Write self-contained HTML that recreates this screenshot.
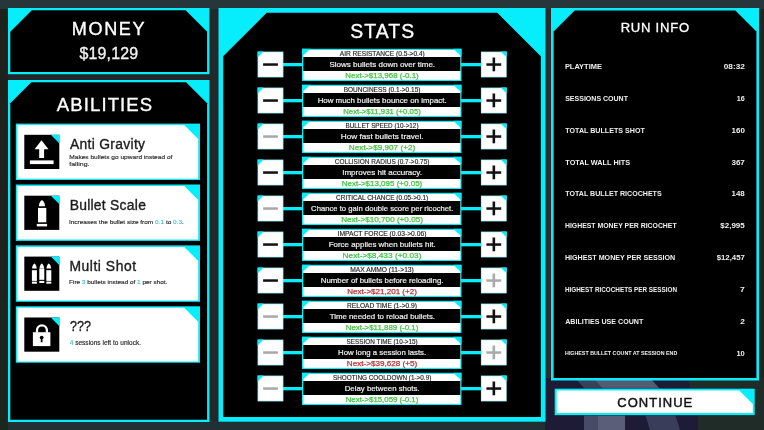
<!DOCTYPE html><html><head><meta charset="utf-8"><style>html,body{margin:0;padding:0;width:764px;height:430px;overflow:hidden;background:#23292a}svg{display:block;filter:blur(0.35px)}text{font-family:"Liberation Sans",sans-serif;white-space:pre}</style></head><body>
<svg width="764" height="430" viewBox="0 0 764 430">
<rect x="0" y="0" width="764" height="430" fill="#23292a"/>
<rect x="0" y="0" width="764" height="9" fill="#26363a"/>
<rect x="0" y="421" width="545" height="9" fill="#213035"/>
<rect x="0" y="9" width="8" height="412" fill="#1e221c"/>
<rect x="0" y="300" width="8" height="130" fill="#1c261f"/>
<rect x="759" y="9" width="5" height="369" fill="#1f251f"/>
<rect x="209" y="9" width="10" height="412" fill="#22292b"/>
<rect x="545" y="9" width="6" height="369" fill="#2a2d2e"/>
<polygon points="545,378 764,378 764,430 545,430" fill="#1d1b36"/>
<polygon points="575,378 593,378 603,389 585,389" fill="#3c4058"/>
<polygon points="593,378 650,378 660,389 603,389" fill="#555b75"/>
<polygon points="584,414 598,414 598,430 584,430" fill="#474b66"/>
<polygon points="598,414 625,414 625,430 598,430" fill="#5a5e78"/>
<polygon points="645,414 675,414 680,430 650,430" fill="#393d5a"/>
<polygon points="688,378 764,378 764,430 698,430 698,414 690,389" fill="#1f2c28"/>

<rect x="8" y="8" width="201.4" height="66.2" fill="#06eefc"/><polygon points="31.80,10.30 185.60,10.30 207.10,31.80 207.10,71.90 10.30,71.90 10.30,31.80" fill="#000"/>
<rect x="8" y="80" width="201.4" height="342" fill="#06eefc"/><polygon points="31.30,82.30 186.10,82.30 207.10,103.30 207.10,419.70 10.30,419.70 10.30,103.30" fill="#000"/>
<rect x="218.5" y="8" width="327" height="413.7" fill="#06eefc"/><polygon points="266.70,12.70 497.30,12.70 540.80,56.20 540.80,417.00 223.20,417.00 223.20,56.20" fill="#000"/>
<rect x="551" y="8" width="208" height="372.5" fill="#06eefc"/><polygon points="574.60,10.60 735.40,10.60 756.40,31.60 756.40,377.90 553.60,377.90 553.60,31.60" fill="#000"/>
<rect x="15.8" y="123.60" width="184.2" height="56.4" fill="#06eefc"/>
<polygon points="17.10,125.10 184.20,125.10 198.20,139.10 198.20,178.70 17.10,178.70" fill="#fff"/>
<g transform="translate(24.3,134.80)"><rect x="0" y="0" width="35" height="34.2" fill="#000"/><polygon points="26.5,0 35.4,0 35.4,8.9" fill="#06eefc"/><path d="M17.2 5.4 L24.2 14.4 L19.8 14.4 L19.8 23.2 L14.9 23.2 L14.9 14.4 L10.3 14.4 Z" fill="#fff"/><rect x="5.6" y="25.6" width="23.7" height="3.7" fill="#fff"/></g>
<rect x="15.8" y="184.50" width="184.2" height="56.4" fill="#06eefc"/>
<polygon points="17.10,186.00 184.20,186.00 198.20,200.00 198.20,239.60 17.10,239.60" fill="#fff"/>
<g transform="translate(24.3,195.70)"><rect x="0" y="0" width="35" height="34.2" fill="#000"/><polygon points="26.5,0 35.4,0 35.4,8.9" fill="#06eefc"/><path d="M14.6 10.6 C14.6 7.6 15.9 5.2 17.65 4.2 C19.4 5.2 20.7 7.6 20.7 10.6 Z" fill="#fff"/><rect x="13.7" y="12.2" width="8.3" height="14.4" fill="#fff"/><rect x="12.5" y="28.2" width="10.3" height="2.5" fill="#fff"/></g>
<rect x="15.8" y="245.40" width="184.2" height="56.4" fill="#06eefc"/>
<polygon points="17.10,246.90 184.20,246.90 198.20,260.90 198.20,300.50 17.10,300.50" fill="#fff"/>
<g transform="translate(24.3,256.60)"><rect x="0" y="0" width="35" height="34.2" fill="#000"/><polygon points="26.5,0 35.4,0 35.4,8.9" fill="#06eefc"/><path d="M7.8 12 C7.8 9.5 8.799999999999999 7.6 10.1 6.8 C11.399999999999999 7.6 12.399999999999999 9.5 12.399999999999999 12 Z" fill="#fff"/><rect x="7.6" y="13.6" width="5" height="10.7" fill="#fff"/><rect x="7.6" y="25.0" width="5" height="2.1" fill="#fff"/><path d="M15.2 12 C15.2 9.5 16.2 7.6 17.5 6.8 C18.8 7.6 19.8 9.5 19.8 12 Z" fill="#fff"/><rect x="15.0" y="12.0" width="5" height="11.2" fill="#fff"/><rect x="15.0" y="24.3" width="5" height="2.1" fill="#fff"/><path d="M22.2 12 C22.2 9.5 23.2 7.6 24.5 6.8 C25.8 7.6 26.8 9.5 26.8 12 Z" fill="#fff"/><rect x="22.0" y="13.6" width="5" height="10.7" fill="#fff"/><rect x="22.0" y="25.0" width="5" height="2.1" fill="#fff"/></g>
<rect x="15.8" y="306.30" width="184.2" height="56.4" fill="#06eefc"/>
<polygon points="17.10,307.80 184.20,307.80 198.20,321.80 198.20,361.40 17.10,361.40" fill="#fff"/>
<g transform="translate(24.3,317.50)"><rect x="0" y="0" width="35" height="34.2" fill="#000"/><polygon points="26.5,0 35.4,0 35.4,8.9" fill="#06eefc"/><path d="M12.7 15 V12.8 A4.95 4.95 0 0 1 22.6 12.8 V15" fill="none" stroke="#fff" stroke-width="2.3"/><rect x="8.6" y="14.7" width="17.5" height="13.9" fill="#fff"/><circle cx="17.35" cy="20.1" r="1.9" fill="#000"/><path d="M16.6 20.5 L18.1 20.5 L18.3 24.7 L16.4 24.7 Z" fill="#000"/></g>
<rect x="283" y="63.00" width="20" height="3.3" fill="#06eefc"/>
<rect x="461" y="63.00" width="20" height="3.3" fill="#06eefc"/>
<rect x="302" y="48.80" width="159.5" height="32.2" fill="#06eefc"/>
<rect x="303.2" y="50.00" width="157.1" height="29.80" fill="#fff"/>
<rect x="303.2" y="57.00" width="157.1" height="14" fill="#000"/>
<polygon points="302,48.80 310.5,48.80 302,56.30" fill="#06eefc"/>
<polygon points="461.5,48.80 453.0,48.80 461.5,56.30" fill="#06eefc"/>
<rect x="257.6" y="51.60" width="25.8" height="25.8" fill="#9ff2fa"/>
<rect x="258.40000000000003" y="52.40" width="24.2" height="24.2" fill="#fff"/>
<polygon points="257.6,51.60 263.6,51.60 257.6,57.60" fill="#06eefc"/>
<rect x="263.1" y="63.30" width="14.8" height="2.5" fill="#111"/>
<rect x="480.9" y="51.60" width="25.8" height="25.8" fill="#9ff2fa"/>
<rect x="481.7" y="52.40" width="24.2" height="24.2" fill="#fff"/>
<polygon points="506.7,51.60 500.7,51.60 506.7,57.60" fill="#06eefc"/>
<rect x="486.4" y="63.30" width="14.8" height="2.5" fill="#111"/>
<rect x="492.54999999999995" y="57.50" width="2.6" height="13.8" fill="#111"/>
<rect x="283" y="99.00" width="20" height="3.3" fill="#06eefc"/>
<rect x="461" y="99.00" width="20" height="3.3" fill="#06eefc"/>
<rect x="302" y="84.80" width="159.5" height="32.2" fill="#06eefc"/>
<rect x="303.2" y="86.00" width="157.1" height="29.80" fill="#fff"/>
<rect x="303.2" y="93.00" width="157.1" height="14" fill="#000"/>
<polygon points="302,84.80 310.5,84.80 302,92.30" fill="#06eefc"/>
<polygon points="461.5,84.80 453.0,84.80 461.5,92.30" fill="#06eefc"/>
<rect x="257.6" y="87.60" width="25.8" height="25.8" fill="#9ff2fa"/>
<rect x="258.40000000000003" y="88.40" width="24.2" height="24.2" fill="#fff"/>
<polygon points="257.6,87.60 263.6,87.60 257.6,93.60" fill="#06eefc"/>
<rect x="263.1" y="99.30" width="14.8" height="2.5" fill="#111"/>
<rect x="480.9" y="87.60" width="25.8" height="25.8" fill="#9ff2fa"/>
<rect x="481.7" y="88.40" width="24.2" height="24.2" fill="#fff"/>
<polygon points="506.7,87.60 500.7,87.60 506.7,93.60" fill="#06eefc"/>
<rect x="486.4" y="99.30" width="14.8" height="2.5" fill="#111"/>
<rect x="492.54999999999995" y="93.50" width="2.6" height="13.8" fill="#111"/>
<rect x="283" y="135.00" width="20" height="3.3" fill="#06eefc"/>
<rect x="461" y="135.00" width="20" height="3.3" fill="#06eefc"/>
<rect x="302" y="120.80" width="159.5" height="32.2" fill="#06eefc"/>
<rect x="303.2" y="122.00" width="157.1" height="29.80" fill="#fff"/>
<rect x="303.2" y="129.00" width="157.1" height="14" fill="#000"/>
<polygon points="302,120.80 310.5,120.80 302,128.30" fill="#06eefc"/>
<polygon points="461.5,120.80 453.0,120.80 461.5,128.30" fill="#06eefc"/>
<rect x="257.6" y="123.60" width="25.8" height="25.8" fill="#9ff2fa"/>
<rect x="258.40000000000003" y="124.40" width="24.2" height="24.2" fill="#fff"/>
<polygon points="257.6,123.60 263.6,123.60 257.6,129.60" fill="#06eefc"/>
<rect x="263.1" y="135.30" width="14.8" height="2.5" fill="#a9a9a9"/>
<rect x="480.9" y="123.60" width="25.8" height="25.8" fill="#9ff2fa"/>
<rect x="481.7" y="124.40" width="24.2" height="24.2" fill="#fff"/>
<polygon points="506.7,123.60 500.7,123.60 506.7,129.60" fill="#06eefc"/>
<rect x="486.4" y="135.30" width="14.8" height="2.5" fill="#111"/>
<rect x="492.54999999999995" y="129.50" width="2.6" height="13.8" fill="#111"/>
<rect x="283" y="171.00" width="20" height="3.3" fill="#06eefc"/>
<rect x="461" y="171.00" width="20" height="3.3" fill="#06eefc"/>
<rect x="302" y="156.80" width="159.5" height="32.2" fill="#06eefc"/>
<rect x="303.2" y="158.00" width="157.1" height="29.80" fill="#fff"/>
<rect x="303.2" y="165.00" width="157.1" height="14" fill="#000"/>
<polygon points="302,156.80 310.5,156.80 302,164.30" fill="#06eefc"/>
<polygon points="461.5,156.80 453.0,156.80 461.5,164.30" fill="#06eefc"/>
<rect x="257.6" y="159.60" width="25.8" height="25.8" fill="#9ff2fa"/>
<rect x="258.40000000000003" y="160.40" width="24.2" height="24.2" fill="#fff"/>
<polygon points="257.6,159.60 263.6,159.60 257.6,165.60" fill="#06eefc"/>
<rect x="263.1" y="171.30" width="14.8" height="2.5" fill="#111"/>
<rect x="480.9" y="159.60" width="25.8" height="25.8" fill="#9ff2fa"/>
<rect x="481.7" y="160.40" width="24.2" height="24.2" fill="#fff"/>
<polygon points="506.7,159.60 500.7,159.60 506.7,165.60" fill="#06eefc"/>
<rect x="486.4" y="171.30" width="14.8" height="2.5" fill="#111"/>
<rect x="492.54999999999995" y="165.50" width="2.6" height="13.8" fill="#111"/>
<rect x="283" y="207.00" width="20" height="3.3" fill="#06eefc"/>
<rect x="461" y="207.00" width="20" height="3.3" fill="#06eefc"/>
<rect x="302" y="192.80" width="159.5" height="32.2" fill="#06eefc"/>
<rect x="303.2" y="194.00" width="157.1" height="29.80" fill="#fff"/>
<rect x="303.2" y="201.00" width="157.1" height="14" fill="#000"/>
<polygon points="302,192.80 310.5,192.80 302,200.30" fill="#06eefc"/>
<polygon points="461.5,192.80 453.0,192.80 461.5,200.30" fill="#06eefc"/>
<rect x="257.6" y="195.60" width="25.8" height="25.8" fill="#9ff2fa"/>
<rect x="258.40000000000003" y="196.40" width="24.2" height="24.2" fill="#fff"/>
<polygon points="257.6,195.60 263.6,195.60 257.6,201.60" fill="#06eefc"/>
<rect x="263.1" y="207.30" width="14.8" height="2.5" fill="#a9a9a9"/>
<rect x="480.9" y="195.60" width="25.8" height="25.8" fill="#9ff2fa"/>
<rect x="481.7" y="196.40" width="24.2" height="24.2" fill="#fff"/>
<polygon points="506.7,195.60 500.7,195.60 506.7,201.60" fill="#06eefc"/>
<rect x="486.4" y="207.30" width="14.8" height="2.5" fill="#111"/>
<rect x="492.54999999999995" y="201.50" width="2.6" height="13.8" fill="#111"/>
<rect x="283" y="243.00" width="20" height="3.3" fill="#06eefc"/>
<rect x="461" y="243.00" width="20" height="3.3" fill="#06eefc"/>
<rect x="302" y="228.80" width="159.5" height="32.2" fill="#06eefc"/>
<rect x="303.2" y="230.00" width="157.1" height="29.80" fill="#fff"/>
<rect x="303.2" y="237.00" width="157.1" height="14" fill="#000"/>
<polygon points="302,228.80 310.5,228.80 302,236.30" fill="#06eefc"/>
<polygon points="461.5,228.80 453.0,228.80 461.5,236.30" fill="#06eefc"/>
<rect x="257.6" y="231.60" width="25.8" height="25.8" fill="#9ff2fa"/>
<rect x="258.40000000000003" y="232.40" width="24.2" height="24.2" fill="#fff"/>
<polygon points="257.6,231.60 263.6,231.60 257.6,237.60" fill="#06eefc"/>
<rect x="263.1" y="243.30" width="14.8" height="2.5" fill="#111"/>
<rect x="480.9" y="231.60" width="25.8" height="25.8" fill="#9ff2fa"/>
<rect x="481.7" y="232.40" width="24.2" height="24.2" fill="#fff"/>
<polygon points="506.7,231.60 500.7,231.60 506.7,237.60" fill="#06eefc"/>
<rect x="486.4" y="243.30" width="14.8" height="2.5" fill="#111"/>
<rect x="492.54999999999995" y="237.50" width="2.6" height="13.8" fill="#111"/>
<rect x="283" y="279.00" width="20" height="3.3" fill="#06eefc"/>
<rect x="461" y="279.00" width="20" height="3.3" fill="#06eefc"/>
<rect x="302" y="264.80" width="159.5" height="32.2" fill="#06eefc"/>
<rect x="303.2" y="266.00" width="157.1" height="29.80" fill="#fff"/>
<rect x="303.2" y="273.00" width="157.1" height="14" fill="#000"/>
<polygon points="302,264.80 310.5,264.80 302,272.30" fill="#06eefc"/>
<polygon points="461.5,264.80 453.0,264.80 461.5,272.30" fill="#06eefc"/>
<rect x="257.6" y="267.60" width="25.8" height="25.8" fill="#9ff2fa"/>
<rect x="258.40000000000003" y="268.40" width="24.2" height="24.2" fill="#fff"/>
<polygon points="257.6,267.60 263.6,267.60 257.6,273.60" fill="#06eefc"/>
<rect x="263.1" y="279.30" width="14.8" height="2.5" fill="#111"/>
<rect x="480.9" y="267.60" width="25.8" height="25.8" fill="#9ff2fa"/>
<rect x="481.7" y="268.40" width="24.2" height="24.2" fill="#fff"/>
<polygon points="506.7,267.60 500.7,267.60 506.7,273.60" fill="#06eefc"/>
<rect x="486.4" y="279.30" width="14.8" height="2.5" fill="#a9a9a9"/>
<rect x="492.54999999999995" y="273.50" width="2.6" height="13.8" fill="#a9a9a9"/>
<rect x="283" y="315.00" width="20" height="3.3" fill="#06eefc"/>
<rect x="461" y="315.00" width="20" height="3.3" fill="#06eefc"/>
<rect x="302" y="300.80" width="159.5" height="32.2" fill="#06eefc"/>
<rect x="303.2" y="302.00" width="157.1" height="29.80" fill="#fff"/>
<rect x="303.2" y="309.00" width="157.1" height="14" fill="#000"/>
<polygon points="302,300.80 310.5,300.80 302,308.30" fill="#06eefc"/>
<polygon points="461.5,300.80 453.0,300.80 461.5,308.30" fill="#06eefc"/>
<rect x="257.6" y="303.60" width="25.8" height="25.8" fill="#9ff2fa"/>
<rect x="258.40000000000003" y="304.40" width="24.2" height="24.2" fill="#fff"/>
<polygon points="257.6,303.60 263.6,303.60 257.6,309.60" fill="#06eefc"/>
<rect x="263.1" y="315.30" width="14.8" height="2.5" fill="#a9a9a9"/>
<rect x="480.9" y="303.60" width="25.8" height="25.8" fill="#9ff2fa"/>
<rect x="481.7" y="304.40" width="24.2" height="24.2" fill="#fff"/>
<polygon points="506.7,303.60 500.7,303.60 506.7,309.60" fill="#06eefc"/>
<rect x="486.4" y="315.30" width="14.8" height="2.5" fill="#111"/>
<rect x="492.54999999999995" y="309.50" width="2.6" height="13.8" fill="#111"/>
<rect x="283" y="351.00" width="20" height="3.3" fill="#06eefc"/>
<rect x="461" y="351.00" width="20" height="3.3" fill="#06eefc"/>
<rect x="302" y="336.80" width="159.5" height="32.2" fill="#06eefc"/>
<rect x="303.2" y="338.00" width="157.1" height="29.80" fill="#fff"/>
<rect x="303.2" y="345.00" width="157.1" height="14" fill="#000"/>
<polygon points="302,336.80 310.5,336.80 302,344.30" fill="#06eefc"/>
<polygon points="461.5,336.80 453.0,336.80 461.5,344.30" fill="#06eefc"/>
<rect x="257.6" y="339.60" width="25.8" height="25.8" fill="#9ff2fa"/>
<rect x="258.40000000000003" y="340.40" width="24.2" height="24.2" fill="#fff"/>
<polygon points="257.6,339.60 263.6,339.60 257.6,345.60" fill="#06eefc"/>
<rect x="263.1" y="351.30" width="14.8" height="2.5" fill="#a9a9a9"/>
<rect x="480.9" y="339.60" width="25.8" height="25.8" fill="#9ff2fa"/>
<rect x="481.7" y="340.40" width="24.2" height="24.2" fill="#fff"/>
<polygon points="506.7,339.60 500.7,339.60 506.7,345.60" fill="#06eefc"/>
<rect x="486.4" y="351.30" width="14.8" height="2.5" fill="#a9a9a9"/>
<rect x="492.54999999999995" y="345.50" width="2.6" height="13.8" fill="#a9a9a9"/>
<rect x="283" y="387.00" width="20" height="3.3" fill="#06eefc"/>
<rect x="461" y="387.00" width="20" height="3.3" fill="#06eefc"/>
<rect x="302" y="372.80" width="159.5" height="32.2" fill="#06eefc"/>
<rect x="303.2" y="374.00" width="157.1" height="29.80" fill="#fff"/>
<rect x="303.2" y="381.00" width="157.1" height="14" fill="#000"/>
<polygon points="302,372.80 310.5,372.80 302,380.30" fill="#06eefc"/>
<polygon points="461.5,372.80 453.0,372.80 461.5,380.30" fill="#06eefc"/>
<rect x="257.6" y="375.60" width="25.8" height="25.8" fill="#9ff2fa"/>
<rect x="258.40000000000003" y="376.40" width="24.2" height="24.2" fill="#fff"/>
<polygon points="257.6,375.60 263.6,375.60 257.6,381.60" fill="#06eefc"/>
<rect x="263.1" y="387.30" width="14.8" height="2.5" fill="#a9a9a9"/>
<rect x="480.9" y="375.60" width="25.8" height="25.8" fill="#9ff2fa"/>
<rect x="481.7" y="376.40" width="24.2" height="24.2" fill="#fff"/>
<polygon points="506.7,375.60 500.7,375.60 506.7,381.60" fill="#06eefc"/>
<rect x="486.4" y="387.30" width="14.8" height="2.5" fill="#111"/>
<rect x="492.54999999999995" y="381.50" width="2.6" height="13.8" fill="#111"/>
<rect x="553.8" y="387.8" width="201.8" height="28.2" fill="#0b2a30" opacity="0.6"/>
<rect x="554.7" y="388.7" width="200" height="26.4" fill="#06eefc"/>
<polygon points="556.7,390.5 739.3,390.5 752.8,404 752.8,413.1 556.7,413.1" fill="#fff"/>
<text x="71.79" y="35.13" font-size="18.10" fill="#fff" stroke="#fff" stroke-width="0.35" textLength="72.83" lengthAdjust="spacing">MONEY</text>
<text x="79.40" y="58.62" font-size="15.92" fill="#f2f2f2" stroke="#f2f2f2" stroke-width="0.35" textLength="58.67" lengthAdjust="spacing">$19,129</text>
<text x="56.84" y="110.73" font-size="18.53" fill="#fff" stroke="#fff" stroke-width="0.35" textLength="95.34" lengthAdjust="spacing">ABILITIES</text>
<text x="350.19" y="37.73" font-size="19.40" fill="#fff" stroke="#fff" stroke-width="0.35" textLength="64.02" lengthAdjust="spacing">STATS</text>
<text x="620.68" y="32.15" font-size="13.08" fill="#fff" stroke="#fff" stroke-width="0.3" textLength="68.40" lengthAdjust="spacing">RUN INFO</text>
<text x="617.26" y="406.88" font-size="13.01" fill="#111" stroke="#111" stroke-width="0.45" textLength="74.97" lengthAdjust="spacing">CONTINUE</text>
<text x="69.95" y="148.62" font-size="13.88" fill="#1c1c1c" stroke="#1c1c1c" stroke-width="0.35" textLength="75.10" lengthAdjust="spacing">Anti Gravity</text>
<text x="69.64" y="209.62" font-size="13.88" fill="#1c1c1c" stroke="#1c1c1c" stroke-width="0.35" textLength="76.21" lengthAdjust="spacing">Bullet Scale</text>
<text x="69.44" y="270.62" font-size="13.88" fill="#1c1c1c" stroke="#1c1c1c" stroke-width="0.35" textLength="66.59" lengthAdjust="spacing">Multi Shot</text>
<text x="70.06" y="330.62" font-size="13.74" fill="#1c1c1c" stroke="#1c1c1c" stroke-width="0.35" textLength="20.93" lengthAdjust="spacingAndGlyphs">???</text>
<text x="69.24" y="159.03" font-size="6.18" fill="#2a2a2a" stroke="#2a2a2a" stroke-width="0.15" textLength="103.18" lengthAdjust="spacingAndGlyphs">Makes bullets go upward instead of</text>
<text x="69.28" y="166.43" font-size="6.18" fill="#2a2a2a" stroke="#2a2a2a" stroke-width="0.15" textLength="20.29" lengthAdjust="spacingAndGlyphs">falling.</text>
<text x="68.98" y="223.62" font-size="5.89" fill="#2a2a2a" stroke="#2a2a2a" stroke-width="0.15" textLength="114.94" lengthAdjust="spacingAndGlyphs">Increases the bullet size from <tspan fill="#3cc4d6" stroke="#3cc4d6">0.1</tspan> to <tspan fill="#3cc4d6" stroke="#3cc4d6">0.3</tspan>.</text>
<text x="69.05" y="284.12" font-size="6.18" fill="#2a2a2a" stroke="#2a2a2a" stroke-width="0.15" textLength="98.36" lengthAdjust="spacingAndGlyphs">Fire <tspan fill="#3cc4d6" stroke="#3cc4d6">3</tspan> bullets instead of <tspan fill="#3cc4d6" stroke="#3cc4d6">1</tspan> per shot.</text>
<text x="69.72" y="344.93" font-size="6.61" fill="#2a2a2a" stroke="#2a2a2a" stroke-width="0.15" textLength="71.30" lengthAdjust="spacingAndGlyphs"><tspan fill="#3cc4d6" stroke="#3cc4d6">4</tspan> sessions left to unlock.</text>
<text x="339.76" y="55.72" font-size="6.61" fill="#262626" stroke="#262626" stroke-width="0.15" textLength="85.07" lengthAdjust="spacingAndGlyphs">AIR RESISTANCE (0.5-&gt;0.4)</text>
<text x="329.49" y="67.10" font-size="7.70" fill="#f0f0f0" stroke="#f0f0f0" stroke-width="0.2" textLength="105.60" lengthAdjust="spacingAndGlyphs">Slows bullets down over time.</text>
<text x="345.27" y="78.47" font-size="7.49" fill="#45c245" stroke="#45c245" stroke-width="0.25" textLength="73.49" lengthAdjust="spacingAndGlyphs">Next-&gt;$13,968 (-0.1)</text>
<text x="343.64" y="91.72" font-size="6.61" fill="#262626" stroke="#262626" stroke-width="0.15" textLength="76.79" lengthAdjust="spacingAndGlyphs">BOUNCINESS (0.1-&gt;0.15)</text>
<text x="317.65" y="103.10" font-size="7.70" fill="#f0f0f0" stroke="#f0f0f0" stroke-width="0.2" textLength="128.97" lengthAdjust="spacingAndGlyphs">How much bullets bounce on impact.</text>
<text x="343.19" y="114.47" font-size="7.49" fill="#45c245" stroke="#45c245" stroke-width="0.25" textLength="77.66" lengthAdjust="spacingAndGlyphs">Next-&gt;$11,931 (+0.05)</text>
<text x="345.56" y="127.72" font-size="6.61" fill="#262626" stroke="#262626" stroke-width="0.15" textLength="72.96" lengthAdjust="spacingAndGlyphs">BULLET SPEED (10-&gt;12)</text>
<text x="340.72" y="139.10" font-size="7.70" fill="#f0f0f0" stroke="#f0f0f0" stroke-width="0.2" textLength="82.83" lengthAdjust="spacingAndGlyphs">How fast bullets travel.</text>
<text x="348.85" y="150.47" font-size="7.49" fill="#45c245" stroke="#45c245" stroke-width="0.25" textLength="66.33" lengthAdjust="spacingAndGlyphs">Next-&gt;$9,907 (+2)</text>
<text x="334.85" y="163.73" font-size="6.61" fill="#262626" stroke="#262626" stroke-width="0.15" textLength="94.58" lengthAdjust="spacingAndGlyphs">COLLISION RADIUS (0.7-&gt;0.75)</text>
<text x="342.21" y="175.10" font-size="7.70" fill="#f0f0f0" stroke="#f0f0f0" stroke-width="0.2" textLength="79.76" lengthAdjust="spacingAndGlyphs">Improves hit accuracy.</text>
<text x="341.77" y="186.48" font-size="7.49" fill="#45c245" stroke="#45c245" stroke-width="0.25" textLength="80.50" lengthAdjust="spacingAndGlyphs">Next-&gt;$13,095 (+0.05)</text>
<text x="336.05" y="199.73" font-size="6.61" fill="#262626" stroke="#262626" stroke-width="0.15" textLength="92.18" lengthAdjust="spacingAndGlyphs">CRITICAL CHANCE (0.05-&gt;0.1)</text>
<text x="311.11" y="211.10" font-size="7.70" fill="#f0f0f0" stroke="#f0f0f0" stroke-width="0.2" textLength="142.29" lengthAdjust="spacingAndGlyphs">Chance to gain double score per ricochet.</text>
<text x="341.16" y="222.48" font-size="7.49" fill="#45c245" stroke="#45c245" stroke-width="0.25" textLength="81.72" lengthAdjust="spacingAndGlyphs">Next-&gt;$10,700 (+0.05)</text>
<text x="337.56" y="235.73" font-size="6.61" fill="#262626" stroke="#262626" stroke-width="0.15" textLength="88.88" lengthAdjust="spacingAndGlyphs">IMPACT FORCE (0.03-&gt;0.06)</text>
<text x="328.65" y="247.10" font-size="7.70" fill="#f0f0f0" stroke="#f0f0f0" stroke-width="0.2" textLength="106.98" lengthAdjust="spacingAndGlyphs">Force applies when bullets hit.</text>
<text x="342.59" y="258.48" font-size="7.49" fill="#45c245" stroke="#45c245" stroke-width="0.25" textLength="78.84" lengthAdjust="spacingAndGlyphs">Next-&gt;$8,433 (+0.03)</text>
<text x="350.23" y="271.73" font-size="6.61" fill="#262626" stroke="#262626" stroke-width="0.15" textLength="63.60" lengthAdjust="spacingAndGlyphs">MAX AMMO (11-&gt;13)</text>
<text x="320.81" y="283.10" font-size="7.70" fill="#f0f0f0" stroke="#f0f0f0" stroke-width="0.2" textLength="122.66" lengthAdjust="spacingAndGlyphs">Number of bullets before reloading.</text>
<text x="347.22" y="294.48" font-size="7.49" fill="#b83434" stroke="#b83434" stroke-width="0.25" textLength="69.61" lengthAdjust="spacingAndGlyphs">Next-&gt;$21,201 (+2)</text>
<text x="347.08" y="307.73" font-size="6.61" fill="#262626" stroke="#262626" stroke-width="0.15" textLength="69.90" lengthAdjust="spacingAndGlyphs">RELOAD TIME (1-&gt;0.9)</text>
<text x="329.67" y="319.10" font-size="7.70" fill="#f0f0f0" stroke="#f0f0f0" stroke-width="0.2" textLength="105.39" lengthAdjust="spacingAndGlyphs">Time needed to reload bullets.</text>
<text x="345.68" y="330.48" font-size="7.49" fill="#45c245" stroke="#45c245" stroke-width="0.25" textLength="72.68" lengthAdjust="spacingAndGlyphs">Next-&gt;$11,889 (-0.1)</text>
<text x="346.59" y="343.73" font-size="6.61" fill="#262626" stroke="#262626" stroke-width="0.15" textLength="71.13" lengthAdjust="spacingAndGlyphs">SESSION TIME (10-&gt;15)</text>
<text x="338.06" y="355.10" font-size="7.70" fill="#f0f0f0" stroke="#f0f0f0" stroke-width="0.2" textLength="88.15" lengthAdjust="spacingAndGlyphs">How long a session lasts.</text>
<text x="346.81" y="366.48" font-size="7.49" fill="#b83434" stroke="#b83434" stroke-width="0.25" textLength="70.42" lengthAdjust="spacingAndGlyphs">Next-&gt;$39,628 (+5)</text>
<text x="332.99" y="379.73" font-size="6.61" fill="#262626" stroke="#262626" stroke-width="0.15" textLength="98.34" lengthAdjust="spacingAndGlyphs">SHOOTING COOLDOWN (1-&gt;0.9)</text>
<text x="344.71" y="391.10" font-size="7.70" fill="#f0f0f0" stroke="#f0f0f0" stroke-width="0.2" textLength="74.86" lengthAdjust="spacingAndGlyphs">Delay between shots.</text>
<text x="345.68" y="402.48" font-size="7.49" fill="#45c245" stroke="#45c245" stroke-width="0.25" textLength="72.68" lengthAdjust="spacingAndGlyphs">Next-&gt;$15,059 (-0.1)</text>
<text x="564.91" y="69.00" font-size="7.85" fill="#f0f0f0" font-weight="bold" textLength="36.97" lengthAdjust="spacingAndGlyphs">PLAYTIME</text>
<text x="723.77" y="69.00" font-size="7.85" fill="#f0f0f0" font-weight="bold" textLength="21.06" lengthAdjust="spacingAndGlyphs">08:32</text>
<text x="565.20" y="100.85" font-size="7.85" fill="#f0f0f0" font-weight="bold" textLength="62.78" lengthAdjust="spacingAndGlyphs">SESSIONS COUNT</text>
<text x="736.75" y="100.85" font-size="7.85" fill="#f0f0f0" font-weight="bold" textLength="8.01" lengthAdjust="spacingAndGlyphs">16</text>
<text x="565.32" y="132.70" font-size="7.85" fill="#f0f0f0" font-weight="bold" textLength="79.45" lengthAdjust="spacingAndGlyphs">TOTAL BULLETS SHOT</text>
<text x="731.50" y="132.70" font-size="7.85" fill="#f0f0f0" font-weight="bold" textLength="13.33" lengthAdjust="spacingAndGlyphs">160</text>
<text x="565.32" y="164.55" font-size="7.85" fill="#f0f0f0" font-weight="bold" textLength="64.76" lengthAdjust="spacingAndGlyphs">TOTAL WALL HITS</text>
<text x="731.42" y="164.55" font-size="7.85" fill="#f0f0f0" font-weight="bold" textLength="13.44" lengthAdjust="spacingAndGlyphs">367</text>
<text x="565.32" y="196.40" font-size="7.85" fill="#f0f0f0" font-weight="bold" textLength="96.35" lengthAdjust="spacingAndGlyphs">TOTAL BULLET RICOCHETS</text>
<text x="731.50" y="196.40" font-size="7.85" fill="#f0f0f0" font-weight="bold" textLength="13.24" lengthAdjust="spacingAndGlyphs">148</text>
<text x="564.94" y="228.25" font-size="7.85" fill="#f0f0f0" font-weight="bold" textLength="111.73" lengthAdjust="spacingAndGlyphs">HIGHEST MONEY PER RICOCHET</text>
<text x="720.29" y="228.25" font-size="7.85" fill="#f0f0f0" font-weight="bold" textLength="24.43" lengthAdjust="spacingAndGlyphs">$2,995</text>
<text x="564.92" y="260.10" font-size="7.85" fill="#f0f0f0" font-weight="bold" textLength="110.26" lengthAdjust="spacingAndGlyphs">HIGHEST MONEY PER SESSION</text>
<text x="716.70" y="260.10" font-size="7.85" fill="#f0f0f0" font-weight="bold" textLength="28.14" lengthAdjust="spacingAndGlyphs">$12,457</text>
<text x="564.98" y="291.50" font-size="6.54" fill="#f0f0f0" font-weight="bold" textLength="112.05" lengthAdjust="spacingAndGlyphs">HIGHEST RICOCHETS PER SESSION</text>
<text x="740.13" y="291.95" font-size="7.85" fill="#f0f0f0" font-weight="bold" textLength="4.74" lengthAdjust="spacingAndGlyphs">7</text>
<text x="565.22" y="323.80" font-size="7.85" fill="#f0f0f0" font-weight="bold" textLength="78.05" lengthAdjust="spacingAndGlyphs">ABILITIES USE COUNT</text>
<text x="740.21" y="323.80" font-size="7.85" fill="#f0f0f0" font-weight="bold" textLength="4.62" lengthAdjust="spacingAndGlyphs">2</text>
<text x="565.05" y="355.00" font-size="5.96" fill="#f0f0f0" font-weight="bold" textLength="112.18" lengthAdjust="spacingAndGlyphs">HIGHEST BULLET COUNT AT SESSION END</text>
<text x="736.43" y="355.65" font-size="7.85" fill="#f0f0f0" font-weight="bold" textLength="8.38" lengthAdjust="spacingAndGlyphs">10</text>
</svg></body></html>
